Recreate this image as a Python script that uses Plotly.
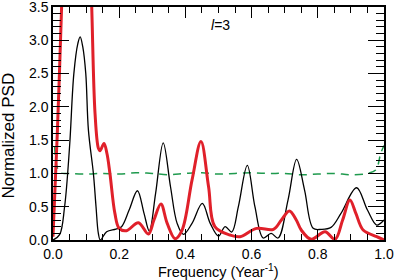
import plotly.graph_objects as go

black_x = [0.0, 0.02, 0.035, 0.05, 0.063, 0.075, 0.082, 0.09, 0.099, 0.107, 0.122, 0.13, 0.137, 0.143,
           0.162, 0.19, 0.207, 0.23, 0.255, 0.275, 0.291, 0.31, 0.333, 0.355, 0.375, 0.394, 0.42,
           0.451, 0.475, 0.5, 0.52, 0.54, 0.56, 0.587, 0.61, 0.635, 0.659, 0.68, 0.71, 0.736, 0.76,
           0.786, 0.81, 0.84, 0.87, 0.917, 0.95, 0.978, 1.0]
black_y = [0.0, 0.08, 0.5, 1.4, 2.5, 2.95, 3.05, 2.9, 2.5, 1.65, 1.0, 0.5, 0.1, 0.0,
           0.125, 0.165, 0.2, 0.45, 0.74, 0.4, 0.135, 0.7, 1.46, 0.8, 0.25, 0.085, 0.25,
           0.55, 0.25, 0.06, 0.2, 0.12, 0.5, 1.12, 0.5, 0.03, 0.1, 0.03, 0.6, 1.21, 0.75,
           0.175, 0.16, 0.19, 0.4, 0.785, 0.45, 0.225, 0.3]

red_x = [0.0, 0.013, 0.026, 0.035, 0.07, 0.108, 0.117, 0.127, 0.137, 0.142, 0.154, 0.163, 0.172,
         0.187, 0.2, 0.222, 0.258, 0.288, 0.305, 0.326, 0.345, 0.369, 0.39, 0.42, 0.447, 0.47,
         0.489, 0.535, 0.565, 0.615, 0.666, 0.69, 0.714, 0.735, 0.75, 0.78, 0.822, 0.852, 0.875,
         0.897, 0.915, 0.937, 0.978, 1.0]
red_y = [0.05, 1.6, 3.5, 5.0, 7.0, 5.0, 3.5, 1.9, 1.38, 1.34, 1.45, 1.3, 1.0,
         0.4, 0.175, 0.14, 0.26, 0.09, 0.3, 0.54, 0.25, 0.02, 0.15, 0.9, 1.48, 0.8,
         0.2, 0.075, 0.05, 0.175, 0.16, 0.3, 0.435, 0.3, 0.15, 0.01, 0.125, 0.01, 0.3,
         0.6, 0.4, 0.15, 0.05, 0.0]

green_x = [0.005, 0.02, 0.05, 0.1, 0.15, 0.2, 0.25, 0.3, 0.35, 0.4, 0.45, 0.5, 0.55, 0.6, 0.65,
           0.7, 0.75, 0.8, 0.85, 0.9, 0.95, 0.975, 0.99, 1.0]
green_y = [1.4, 1.02, 1.0, 0.99, 1.0, 0.99, 1.01, 1.0, 0.98, 1.0, 1.01, 0.99, 1.0, 1.01, 1.0,
           1.0, 0.98, 0.99, 1.0, 0.98, 1.0, 1.05, 1.3, 1.42]

y_ticks = [0.0, 0.5, 1.0, 1.5, 2.0, 2.5, 3.0, 3.5]
x_ticks = [0.0, 0.2, 0.4, 0.6, 0.8, 1.0]

fig = go.Figure()
fig.add_trace(go.Scatter(x=green_x, y=green_y, mode="lines", line_shape="spline",
                         line=dict(color="#1f9a4e", width=1.5, dash="8px,6px")))
fig.add_trace(go.Scatter(x=black_x, y=black_y, mode="lines", line_shape="spline",
                         line=dict(color="black", width=1.3)))
fig.add_trace(go.Scatter(x=red_x, y=red_y, mode="lines", line_shape="spline",
                         line=dict(color="#e0202a", width=3)))

fig.add_annotation(x=0.47, y=3.23, xref="x", yref="y", xanchor="left", yanchor="middle",
                   text="<i>l</i>=3", showarrow=False, font=dict(size=14, color="black"))

fig.add_annotation(x=0.5, y=-0.135, xref="paper", yref="paper", xanchor="center", yanchor="middle",
                   text="Frequency (Year<sup>-1</sup>)", showarrow=False, font=dict(size=14.5, color="black"))
fig.add_annotation(x=-0.135, y=0.45, xref="paper", yref="paper", showarrow=False, textangle=-90,
                   text="Normalized PSD", font=dict(size=17, color="black"),
                   xanchor="center", yanchor="middle")

fig.update_layout(
    width=399, height=280,
    margin=dict(l=53, r=15, t=7, b=40),
    paper_bgcolor="white", plot_bgcolor="white",
    showlegend=False,
    font=dict(family="Liberation Sans, Arial, sans-serif", size=14, color="black"),
)
fig.update_xaxes(range=[0, 1], tickvals=x_ticks, ticktext=[f"{v:.1f}" for v in x_ticks],
                 automargin=False, ticklabeloverflow="allow",
                 showgrid=False, zeroline=False, showline=True, linecolor="black", linewidth=1.5,
                 mirror="ticks", ticks="inside", ticklen=11, tickwidth=1.2, tickcolor="black",
                 minor=dict(dtick=0.05, ticks="inside", ticklen=6, tickwidth=1.2, tickcolor="black", showgrid=False))
fig.update_yaxes(range=[0, 3.5], tickvals=y_ticks, ticktext=[f"{v:.1f}" for v in y_ticks],
                 automargin=False, ticklabeloverflow="allow",
                 showgrid=False, zeroline=False, showline=True, linecolor="black", linewidth=1.5,
                 mirror="ticks", ticks="inside", ticklen=16, tickwidth=1.2, tickcolor="black",
                 minor=dict(dtick=0.1, ticks="inside", ticklen=8, tickwidth=1.2, tickcolor="black", showgrid=False))

fig.write_html("out.html", config={"displayModeBar": False},
               post_script="document.body.style.margin='0px';document.body.style.overflow='hidden';")
